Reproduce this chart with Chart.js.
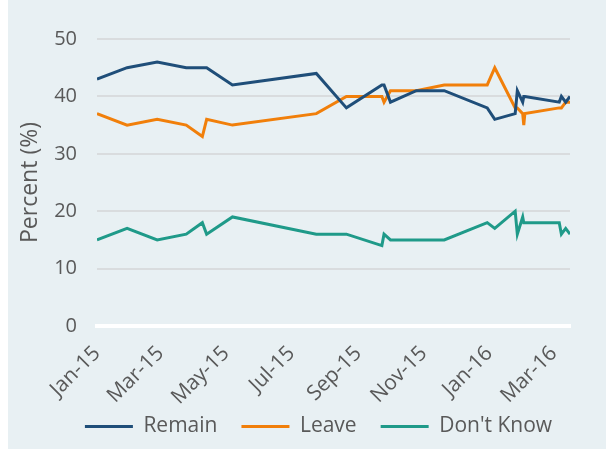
<!DOCTYPE html>
<html>
<head>
<meta charset="utf-8">
<script src="https://cdn.jsdelivr.net/npm/chart.js@4/dist/chart.umd.min.js"></script>
<style>
  html, body { margin: 0; padding: 0; background: #fff; }
  #wrap { width: 606px; height: 449px; }
</style>
</head>
<body>
<div id="wrap"><canvas id="pollChart" width="606" height="449"></canvas></div>
<script>
// poll dates and results (%)
var pollDates = ['2015-01-01','2015-01-29','2015-02-26','2015-03-25','2015-04-09','2015-04-13','2015-05-07',
  '2015-07-24','2015-08-21','2015-09-23','2015-09-25','2015-10-01','2015-10-25','2015-11-20','2015-12-30',
  '2016-01-06','2016-01-25','2016-01-27','2016-02-01','2016-02-02','2016-02-03','2016-03-06','2016-03-08',
  '2016-03-12','2016-03-16'];
var remain   = [43, 45, 46, 45, 45, 45, 42, 44, 38, 42, 42, 39, 41, 41, 38, 36, 37, 41, 39, 40, 40, 39, 40, 39, 40];
var leave    = [37, 35, 36, 35, 33, 36, 35, 37, 40, 40, 39, 41, 41, 42, 42, 45, 38, 38, 37, 35, 37, 38, 38, 39, 39];
var dontKnow = [15, 17, 15, 16, 18, 16, 19, 16, 16, 14, 16, 15, 15, 15, 18, 17, 20, 16, 19, 18, 18, 18, 16, 17, 16];

var tickDates  = ['2015-01-01','2015-03-01','2015-05-01','2015-07-01','2015-09-01','2015-11-01','2016-01-01','2016-03-01'];
var tickLabels = ['Jan-15','Mar-15','May-15','Jul-15','Sep-15','Nov-15','Jan-16','Mar-16'];

var start = Date.UTC(2015, 0, 1);
function dayNum(s) {
  var p = s.split('-');
  return Math.round((Date.UTC(+p[0], +p[1] - 1, +p[2]) - start) / 86400000);
}
function pts(vals) {
  return vals.map(function (v, i) { return { x: dayNum(pollDates[i]), y: v }; });
}
var tickPos = tickDates.map(dayNum);

var bg = {
  id: 'bg',
  beforeDraw: function (chart) {
    var c = chart.ctx;
    c.save();
    c.fillStyle = '#e8f0f3';
    c.fillRect(8, 0, chart.width - 8, chart.height);
    c.restore();
  },
  afterLayout: function (chart) {
    // nudge the legend row to the right
    chart.legend.left = 31;
    chart.legend.right = chart.width;
    // let the rotated month labels run past the axis box
    chart.scales.x.bottom += 24;
  }
};

Chart.defaults.font.family = '"Open Sans", "Noto Sans", sans-serif';
Chart.defaults.color = '#595959';

new Chart(document.getElementById('pollChart'), {
  type: 'line',
  data: {
    datasets: [
      { label: 'Remain', data: pts(remain), borderColor: '#1f4e79', backgroundColor: '#1f4e79', borderWidth: 3 },
      { label: 'Leave', data: pts(leave), borderColor: '#f17f0a', backgroundColor: '#f17f0a', borderWidth: 3 },
      { label: "Don't Know", data: pts(dontKnow), borderColor: '#1f9a89', backgroundColor: '#1f9a89', borderWidth: 3 }
    ]
  },
  options: {
    responsive: false,
    animation: false,
    elements: {
      line: { tension: 0, borderJoinStyle: 'miter' },
      point: { radius: 0, hoverRadius: 0 }
    },
    layout: { padding: { left: 0, top: 39, right: 36, bottom: 2 } },
    scales: {
      x: {
        type: 'linear',
        min: 0,
        max: dayNum('2016-03-16'),
        afterBuildTicks: function (s) {
          s.ticks = tickPos.map(function (v) { return { value: v }; });
        },
        afterFit: function (s) { s.height = 66; },
        ticks: {
          autoSkip: false,
          minRotation: 45,
          maxRotation: 45,
          padding: 15,
          font: { size: 21 },
          callback: function (v) { return tickLabels[tickPos.indexOf(v)]; }
        },
        grid: { display: false, drawTicks: false },
        border: { display: true, color: '#ffffff', width: 4 }
      },
      y: {
        min: 0,
        max: 50,
        afterFit: function (s) { s.width = 97; },
        ticks: { stepSize: 10, padding: 20, font: { size: 20 } },
        grid: {
          drawTicks: false,
          color: function (c) { return c.tick.value === 0 ? 'rgba(0,0,0,0)' : '#d9dcde'; },
          lineWidth: 2
        },
        border: { display: false },
        title: { display: true, text: 'Percent (%)', font: { size: 23 }, padding: { top: 17, bottom: 0 } }
      }
    },
    plugins: {
      legend: {
        position: 'bottom',
        labels: {
          usePointStyle: true,
          pointStyle: 'line',
          pointStyleWidth: 48,
          boxHeight: 3,
          padding: 24,
          font: { size: 21 }
        }
      },
      tooltip: { enabled: false }
    }
  },
  plugins: [bg]
});
</script>
</body>
</html>
